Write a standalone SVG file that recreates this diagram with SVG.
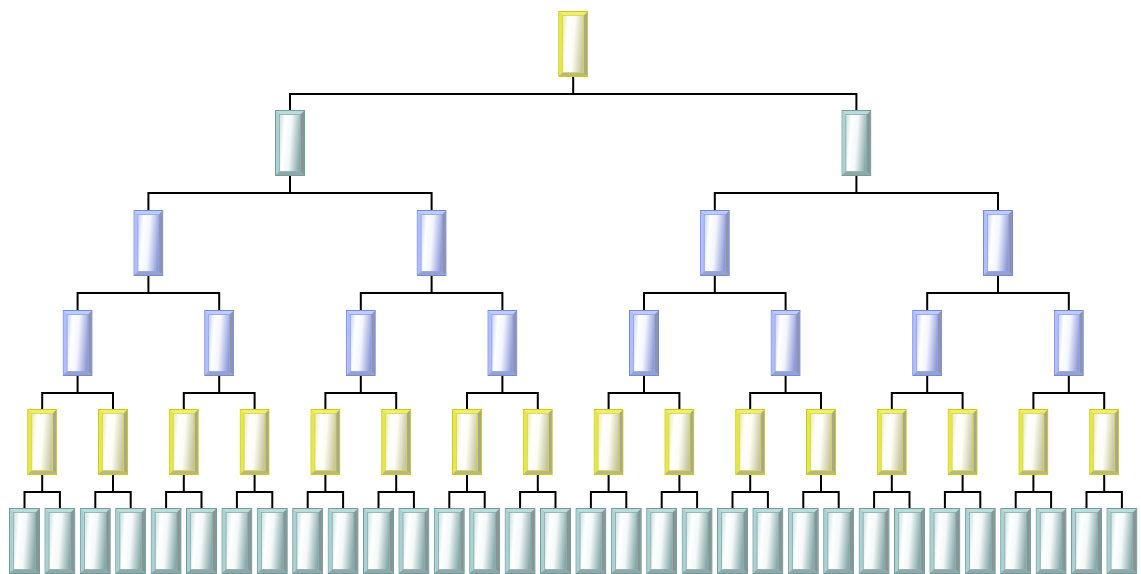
<svg xmlns="http://www.w3.org/2000/svg" xmlns:xlink="http://www.w3.org/1999/xlink" width="1141" height="574" viewBox="0 0 1141 574">
<defs>
<style>
.cn{fill:none;stroke:#000;stroke-width:2;}
</style>
<linearGradient id="py" x1="0" y1="0.4" x2="1" y2="0.6"><stop offset="0" stop-color="#f0f0c0"/><stop offset="0.2" stop-color="#ffffff"/><stop offset="0.5" stop-color="#fdfdf4"/><stop offset="1" stop-color="#c4c49a"/></linearGradient>
<linearGradient id="pt" x1="0" y1="0.4" x2="1" y2="0.6"><stop offset="0" stop-color="#d6e8e8"/><stop offset="0.2" stop-color="#ffffff"/><stop offset="0.5" stop-color="#f4f8f8"/><stop offset="1" stop-color="#84a8a8"/></linearGradient>
<linearGradient id="pb" x1="0" y1="0.4" x2="1" y2="0.6"><stop offset="0" stop-color="#d4dcff"/><stop offset="0.2" stop-color="#ffffff"/><stop offset="0.5" stop-color="#f4f6ff"/><stop offset="1" stop-color="#8c9ad6"/></linearGradient>
<symbol id="ny" viewBox="0 0 30 66" preserveAspectRatio="none">
<rect x="0.5" y="0.5" width="29" height="65" fill="#e0e030" stroke="#cccc10"/>
<polygon points="1,1 29,1 25.5,4.5 4.5,4.5" fill="#eeee70"/>
<polygon points="1,1 4.5,4.5 4.5,61.5 1,65" fill="#e6e650"/>
<polygon points="29,1 29,65 25.5,61.5 25.5,4.5" fill="#a8a890"/>
<polygon points="1,65 29,65 25.5,61.5 4.5,61.5" fill="#b8b880"/>
<rect x="4.5" y="4.5" width="21" height="57" fill="url(#py)" stroke="#d8d840" stroke-width="0.8"/>
</symbol>
<symbol id="nt" viewBox="0 0 30 66" preserveAspectRatio="none">
<rect x="0.5" y="0.5" width="29" height="65" fill="#9cc4c4" stroke="#6e9e9e"/>
<polygon points="1,1 29,1 25.5,4.5 4.5,4.5" fill="#bcdcdc"/>
<polygon points="1,1 4.5,4.5 4.5,61.5 1,65" fill="#aed0d0"/>
<polygon points="29,1 29,65 25.5,61.5 25.5,4.5" fill="#8a9494"/>
<polygon points="1,65 29,65 25.5,61.5 4.5,61.5" fill="#92a8a8"/>
<rect x="4.5" y="4.5" width="21" height="57" fill="url(#pt)" stroke="#86b0b0" stroke-width="0.8"/>
</symbol>
<symbol id="nb" viewBox="0 0 30 66" preserveAspectRatio="none">
<rect x="0.5" y="0.5" width="29" height="65" fill="#a0b0f8" stroke="#7088e8"/>
<polygon points="1,1 29,1 25.5,4.5 4.5,4.5" fill="#c0ccff"/>
<polygon points="1,1 4.5,4.5 4.5,61.5 1,65" fill="#b0bffc"/>
<polygon points="29,1 29,65 25.5,61.5 25.5,4.5" fill="#8e94ac"/>
<polygon points="1,65 29,65 25.5,61.5 4.5,61.5" fill="#98a2c6"/>
<rect x="4.5" y="4.5" width="21" height="57" fill="url(#pb)" stroke="#90a0f0" stroke-width="0.8"/>
</symbol>
</defs>
<g id="connectors" class="cn">
<path d="M290,110 V94 H856.4 V110 M573.2,77 V94"/>
<path d="M148.4,210 V193 H431.6 V210 M290,176 V193"/>
<path d="M714.8,210 V193 H998 V210 M856.4,176 V193"/>
<path d="M77.6,310 V293 H219.2 V310 M148.4,276 V293"/>
<path d="M360.8,310 V293 H502.4 V310 M431.6,276 V293"/>
<path d="M644,310 V293 H785.6 V310 M714.8,276 V293"/>
<path d="M927.2,310 V293 H1068.8 V310 M998,276 V293"/>
<path d="M42.2,409 V393 H113 V409 M77.6,376 V393"/>
<path d="M183.8,409 V393 H254.6 V409 M219.2,376 V393"/>
<path d="M325.4,409 V393 H396.2 V409 M360.8,376 V393"/>
<path d="M467,409 V393 H537.8 V409 M502.4,376 V393"/>
<path d="M608.6,409 V393 H679.4 V409 M644,376 V393"/>
<path d="M750.2,409 V393 H821 V409 M785.6,376 V393"/>
<path d="M891.8,409 V393 H962.6 V409 M927.2,376 V393"/>
<path d="M1033.4,409 V393 H1104.2 V409 M1068.8,376 V393"/>
<path d="M24.5,508 V492 H59.9 V508 M42.2,475 V492"/>
<path d="M95.3,508 V492 H130.7 V508 M113,475 V492"/>
<path d="M166.1,508 V492 H201.5 V508 M183.8,475 V492"/>
<path d="M236.9,508 V492 H272.3 V508 M254.6,475 V492"/>
<path d="M307.7,508 V492 H343.1 V508 M325.4,475 V492"/>
<path d="M378.5,508 V492 H413.9 V508 M396.2,475 V492"/>
<path d="M449.3,508 V492 H484.7 V508 M467,475 V492"/>
<path d="M520.1,508 V492 H555.5 V508 M537.8,475 V492"/>
<path d="M590.9,508 V492 H626.3 V508 M608.6,475 V492"/>
<path d="M661.7,508 V492 H697.1 V508 M679.4,475 V492"/>
<path d="M732.5,508 V492 H767.9 V508 M750.2,475 V492"/>
<path d="M803.3,508 V492 H838.7 V508 M821,475 V492"/>
<path d="M874.1,508 V492 H909.5 V508 M891.8,475 V492"/>
<path d="M944.9,508 V492 H980.3 V508 M962.6,475 V492"/>
<path d="M1015.7,508 V492 H1051.1 V508 M1033.4,475 V492"/>
<path d="M1086.5,508 V492 H1121.9 V508 M1104.2,475 V492"/>
</g>
<g id="root"><use href="#ny" x="558.2" y="11" width="30" height="66"/></g>
<g id="l1-0"><use href="#nt" x="275" y="110" width="30" height="66"/></g>
<g id="l1-1"><use href="#nt" x="841.4" y="110" width="30" height="66"/></g>
<g id="l2-0"><use href="#nb" x="133.4" y="210" width="30" height="66"/></g>
<g id="l2-1"><use href="#nb" x="416.6" y="210" width="30" height="66"/></g>
<g id="l2-2"><use href="#nb" x="699.8" y="210" width="30" height="66"/></g>
<g id="l2-3"><use href="#nb" x="983" y="210" width="30" height="66"/></g>
<g id="l3-0"><use href="#nb" x="62.6" y="310" width="30" height="66"/></g>
<g id="l3-1"><use href="#nb" x="204.2" y="310" width="30" height="66"/></g>
<g id="l3-2"><use href="#nb" x="345.8" y="310" width="30" height="66"/></g>
<g id="l3-3"><use href="#nb" x="487.4" y="310" width="30" height="66"/></g>
<g id="l3-4"><use href="#nb" x="629" y="310" width="30" height="66"/></g>
<g id="l3-5"><use href="#nb" x="770.6" y="310" width="30" height="66"/></g>
<g id="l3-6"><use href="#nb" x="912.2" y="310" width="30" height="66"/></g>
<g id="l3-7"><use href="#nb" x="1053.8" y="310" width="30" height="66"/></g>
<g id="l4-0"><use href="#ny" x="27.2" y="409" width="30" height="66"/></g>
<g id="l4-1"><use href="#ny" x="98" y="409" width="30" height="66"/></g>
<g id="l4-2"><use href="#ny" x="168.8" y="409" width="30" height="66"/></g>
<g id="l4-3"><use href="#ny" x="239.6" y="409" width="30" height="66"/></g>
<g id="l4-4"><use href="#ny" x="310.4" y="409" width="30" height="66"/></g>
<g id="l4-5"><use href="#ny" x="381.2" y="409" width="30" height="66"/></g>
<g id="l4-6"><use href="#ny" x="452" y="409" width="30" height="66"/></g>
<g id="l4-7"><use href="#ny" x="522.8" y="409" width="30" height="66"/></g>
<g id="l4-8"><use href="#ny" x="593.6" y="409" width="30" height="66"/></g>
<g id="l4-9"><use href="#ny" x="664.4" y="409" width="30" height="66"/></g>
<g id="l4-10"><use href="#ny" x="735.2" y="409" width="30" height="66"/></g>
<g id="l4-11"><use href="#ny" x="806" y="409" width="30" height="66"/></g>
<g id="l4-12"><use href="#ny" x="876.8" y="409" width="30" height="66"/></g>
<g id="l4-13"><use href="#ny" x="947.6" y="409" width="30" height="66"/></g>
<g id="l4-14"><use href="#ny" x="1018.4" y="409" width="30" height="66"/></g>
<g id="l4-15"><use href="#ny" x="1089.2" y="409" width="30" height="66"/></g>
<g id="l5-0"><use href="#nt" x="9" y="508" width="31" height="66"/></g>
<g id="l5-1"><use href="#nt" x="44.4" y="508" width="31" height="66"/></g>
<g id="l5-2"><use href="#nt" x="79.8" y="508" width="31" height="66"/></g>
<g id="l5-3"><use href="#nt" x="115.2" y="508" width="31" height="66"/></g>
<g id="l5-4"><use href="#nt" x="150.6" y="508" width="31" height="66"/></g>
<g id="l5-5"><use href="#nt" x="186" y="508" width="31" height="66"/></g>
<g id="l5-6"><use href="#nt" x="221.4" y="508" width="31" height="66"/></g>
<g id="l5-7"><use href="#nt" x="256.8" y="508" width="31" height="66"/></g>
<g id="l5-8"><use href="#nt" x="292.2" y="508" width="31" height="66"/></g>
<g id="l5-9"><use href="#nt" x="327.6" y="508" width="31" height="66"/></g>
<g id="l5-10"><use href="#nt" x="363" y="508" width="31" height="66"/></g>
<g id="l5-11"><use href="#nt" x="398.4" y="508" width="31" height="66"/></g>
<g id="l5-12"><use href="#nt" x="433.8" y="508" width="31" height="66"/></g>
<g id="l5-13"><use href="#nt" x="469.2" y="508" width="31" height="66"/></g>
<g id="l5-14"><use href="#nt" x="504.6" y="508" width="31" height="66"/></g>
<g id="l5-15"><use href="#nt" x="540" y="508" width="31" height="66"/></g>
<g id="l5-16"><use href="#nt" x="575.4" y="508" width="31" height="66"/></g>
<g id="l5-17"><use href="#nt" x="610.8" y="508" width="31" height="66"/></g>
<g id="l5-18"><use href="#nt" x="646.2" y="508" width="31" height="66"/></g>
<g id="l5-19"><use href="#nt" x="681.6" y="508" width="31" height="66"/></g>
<g id="l5-20"><use href="#nt" x="717" y="508" width="31" height="66"/></g>
<g id="l5-21"><use href="#nt" x="752.4" y="508" width="31" height="66"/></g>
<g id="l5-22"><use href="#nt" x="787.8" y="508" width="31" height="66"/></g>
<g id="l5-23"><use href="#nt" x="823.2" y="508" width="31" height="66"/></g>
<g id="l5-24"><use href="#nt" x="858.6" y="508" width="31" height="66"/></g>
<g id="l5-25"><use href="#nt" x="894" y="508" width="31" height="66"/></g>
<g id="l5-26"><use href="#nt" x="929.4" y="508" width="31" height="66"/></g>
<g id="l5-27"><use href="#nt" x="964.8" y="508" width="31" height="66"/></g>
<g id="l5-28"><use href="#nt" x="1000.2" y="508" width="31" height="66"/></g>
<g id="l5-29"><use href="#nt" x="1035.6" y="508" width="31" height="66"/></g>
<g id="l5-30"><use href="#nt" x="1071" y="508" width="31" height="66"/></g>
<g id="l5-31"><use href="#nt" x="1106.4" y="508" width="31" height="66"/></g>
</svg>
